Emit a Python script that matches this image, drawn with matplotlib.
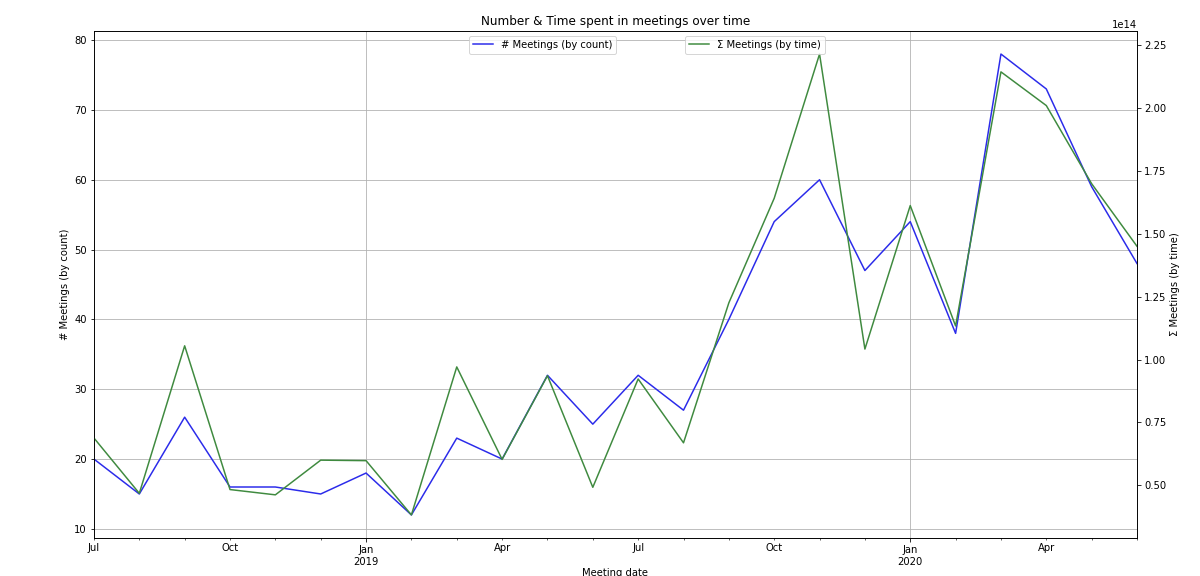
import matplotlib
matplotlib.use('Agg')
import matplotlib.pyplot as plt
import pandas as pd
import numpy as np

# monthly meeting stats, Jul 2018 .. Jun 2020
months = pd.period_range('2018-07', periods=24, freq='M', name='Meeting date')

meetings_count = [20, 15, 26, 16, 16, 15, 18, 12, 23, 20, 32, 25,
                  32, 27, 40, 54, 60, 47, 54, 38, 78, 73, 59, 48]

# total time in meetings (x 1e14)
meetings_time = [0.688, 0.468, 1.055, 0.483, 0.462, 0.600, 0.598, 0.382,
                 0.971, 0.603, 0.936, 0.492, 0.923, 0.669, 1.226, 1.642,
                 2.216, 1.042, 1.613, 1.134, 2.145, 2.011, 1.700, 1.451]

df = pd.DataFrame({'count': meetings_count,
                   'time': np.array(meetings_time) * 1e14}, index=months)

fig = plt.figure(figsize=(1200 / 72, 576 / 72), dpi=72)
ax = fig.add_subplot(111)
fig.subplots_adjust(left=0.0783, right=0.9475, top=0.9462, bottom=0.066)

df['count'].plot(ax=ax, color='#2b2bea', linewidth=1.5)
ax2 = df['time'].plot(ax=ax, secondary_y=True, color='#3f8a3f', linewidth=1.5)

ax.set_title('Number & Time spent in meetings over time', fontsize=12)
ax.set_ylabel('# Meetings (by count)')
ax2.set_ylabel('Σ Meetings (by time)')
ax.set_xlabel('Meeting date', labelpad=1)
ax.grid(True)

# one legend per axis, no "(right)" suffix
ax.legend([ax.get_lines()[0]], ['# Meetings (by count)'],
          loc='upper center', bbox_to_anchor=(0.43, 1.0))
ax2.legend([ax2.get_lines()[0]], ['Σ Meetings (by time)'],
           loc='upper center', bbox_to_anchor=(0.634, 1.0))

plt.savefig('out.png', dpi=72)
